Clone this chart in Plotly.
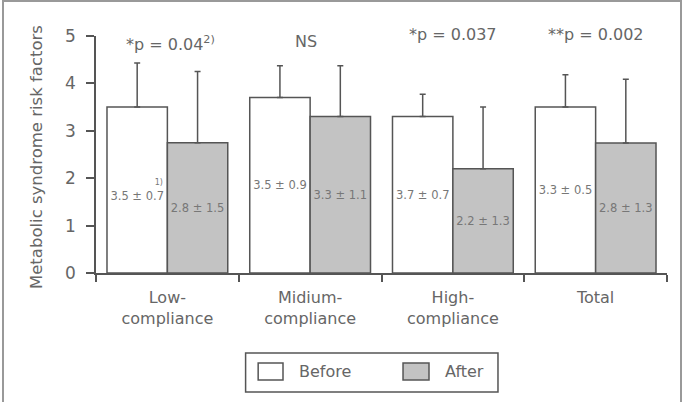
import plotly.graph_objects as go

categories = ["Low-<br>compliance", "Midium-<br>compliance", "High-<br>compliance", "Total"]
before_mean = [3.5, 3.7, 3.3, 3.5]
before_err = [0.93, 0.67, 0.47, 0.68]
after_mean = [2.75, 3.3, 2.2, 2.74]
after_err = [1.5, 1.07, 1.3, 1.35]
nb = "\u00a0"
before_text = ["<span style='font-size:8px'>" + nb * 17 + "1)</span><br>3.5 ± 0.7",
               "3.5 ± 0.9", "3.7 ± 0.7", "3.3 ± 0.5"]
after_text = ["2.8 ± 1.5", "3.3 ± 1.1", "2.2 ± 1.3", "2.8 ± 1.3"]
p_labels = ["*p = 0.04<sup>2)</sup>", "NS", "*p = 0.037", "**p = 0.002"]
p_y = [0.97, 0.975, 1.005, 1.005]
ylabels = ["0", "1", "2", "3", "4", "5"]

FONT = "DejaVu Sans"
LINE = "#555555"
TXT = "#666666"

fig = go.Figure()
fig.add_trace(go.Bar(
    x=categories, y=before_mean, name="Before",
    marker=dict(color="white", line=dict(color=LINE, width=1.5)),
    error_y=dict(type="data", array=before_err, symmetric=False,
                 arrayminus=[0] * 4, color=LINE, thickness=1.5, width=3),
    text=before_text, textposition="inside", insidetextanchor="middle",
    textangle=0, constraintext="none",
    insidetextfont=dict(family=FONT, size=11.5, color="#777777"),
    showlegend=False,
))
fig.add_trace(go.Bar(
    x=categories, y=after_mean, name="After",
    marker=dict(color="#c3c3c3", line=dict(color=LINE, width=1.5)),
    error_y=dict(type="data", array=after_err, symmetric=False,
                 arrayminus=[0] * 4, color=LINE, thickness=1.5, width=3),
    text=after_text, textposition="inside", insidetextanchor="middle",
    textangle=0, constraintext="none",
    insidetextfont=dict(family=FONT, size=11.5, color="#777777"),
    showlegend=False,
))

for i, (lab, yy) in enumerate(zip(p_labels, p_y)):
    fig.add_annotation(x=categories[i], y=yy, xref="x", yref="paper", text=lab,
                       yanchor="middle", xanchor="center",
                       showarrow=False, xshift=(-4 if lab == "NS" else 3 if i == 0 else 0),
                       font=dict(family=FONT, size=16, color=TXT))

# y-axis title
fig.add_annotation(x=-0.103, y=0.49, xref="paper", yref="paper",
                   xanchor="center", yanchor="middle",
                   text="Metabolic syndrome risk factors", textangle=-90,
                   showarrow=False, font=dict(family=FONT, size=16.5, color=TXT))

# manual legend
fig.add_shape(type="rect", xref="paper", yref="paper", x0=0.262, x1=0.704,
              y0=-0.502, y1=-0.338, line=dict(color=LINE, width=1.5), fillcolor="white")
fig.add_shape(type="rect", xref="paper", yref="paper", x0=0.284, x1=0.3275,
              y0=-0.451, y1=-0.380, line=dict(color=LINE, width=1.5), fillcolor="white")
fig.add_shape(type="rect", xref="paper", yref="paper", x0=0.5377, x1=0.5832,
              y0=-0.451, y1=-0.380, line=dict(color=LINE, width=1.5), fillcolor="#c3c3c3")
fig.add_annotation(x=0.352, y=-0.4156, xref="paper", yref="paper", text="Before",
                   xanchor="left", yanchor="middle", showarrow=False,
                   font=dict(family=FONT, size=16, color=TXT))
fig.add_annotation(x=0.6077, y=-0.4156, xref="paper", yref="paper", text="After",
                   xanchor="left", yanchor="middle", showarrow=False,
                   font=dict(family=FONT, size=16, color=TXT))

# outer frame
fig.add_shape(type="rect", xref="paper", yref="paper",
              x0=(3 - 96) / 571, x1=(681 - 96) / 571,
              y0=(273 - 410) / 237, y1=(273 - 1) / 237,
              line=dict(color="#999999", width=2), fillcolor="rgba(0,0,0,0)", layer="below")

fig.update_layout(
    width=686, height=402,
    margin=dict(l=96, r=19, t=36, b=129),
    paper_bgcolor="white", plot_bgcolor="white",
    barmode="group", bargap=0.154, bargroupgap=0,
    font=dict(family=FONT, color=TXT),
    showlegend=False,
)
fig.update_xaxes(
    showline=True, linecolor=LINE, linewidth=1.5,
    ticks="outside", tickson="boundaries", ticklen=7, tickcolor=LINE, tickwidth=1.5,
    tickfont=dict(family=FONT, size=16, color=TXT), ticklabelstandoff=9,
    showgrid=False, zeroline=False,
)
fig.update_yaxes(
    range=[0, 5], tickvals=[0, 1, 2, 3, 4, 5], ticktext=ylabels,
    showline=True, linecolor=LINE, linewidth=1.5,
    ticks="outside", ticklen=8, tickcolor=LINE, tickwidth=1.5,
    tickfont=dict(family=FONT, size=17, color=TXT), ticklabelstandoff=7,
    showgrid=False, zeroline=False,
)

fig.write_html("out.html")
